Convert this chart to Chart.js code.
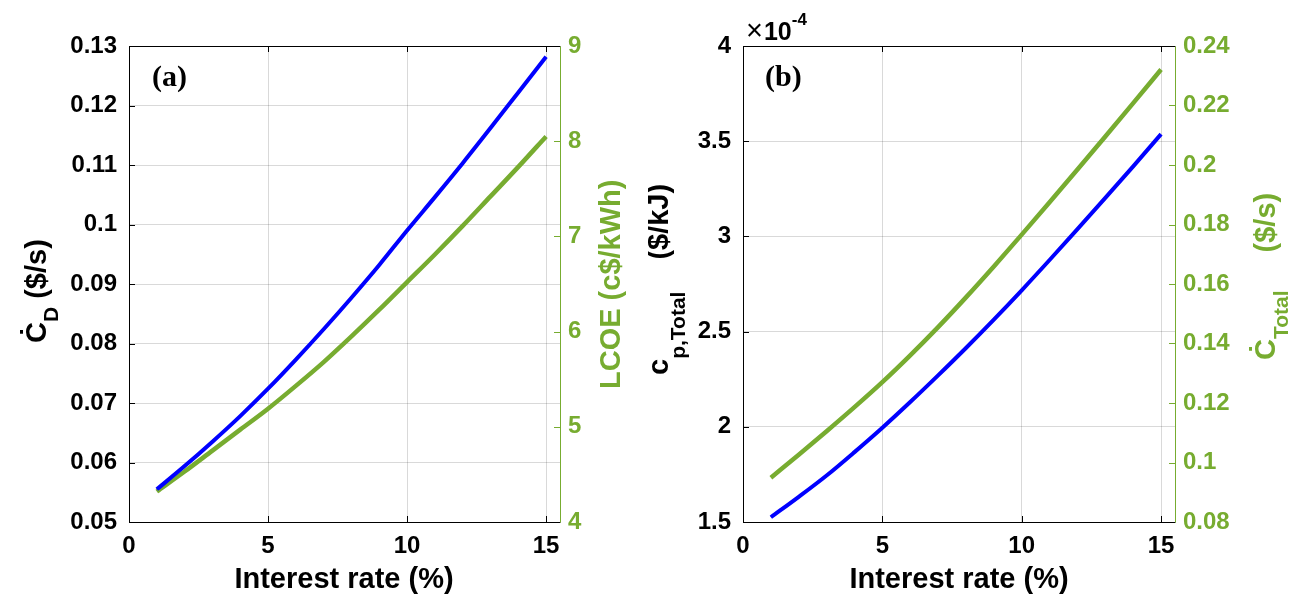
<!DOCTYPE html>
<html>
<head>
<meta charset="utf-8">
<script src="https://cdn.jsdelivr.net/npm/chart.js@4/dist/chart.umd.min.js"></script>
<style>
  body { margin: 0; background: #fff; }
  canvas { position: absolute; top: 0; }
</style>
</head>
<body>
<canvas id="chartA" width="648" height="596" style="left:0"></canvas>
<canvas id="chartB" width="648" height="596" style="left:648px"></canvas>
<script>
// interest rate (%)
var rateX = [1, 2, 3, 4, 5, 6, 7, 8, 9, 10, 11, 12, 13, 14, 15];
// panel (a)
var cdRate = [0.0555, 0.0594, 0.0635, 0.0678, 0.0724, 0.0773, 0.0824, 0.0877, 0.0932, 0.0990, 0.1046, 0.1103, 0.1162, 0.1222, 0.1282];
var lcoe = [4.32, 4.53, 4.75, 4.97, 5.19, 5.43, 5.68, 5.95, 6.23, 6.52, 6.81, 7.11, 7.42, 7.73, 8.05];
// panel (b)  (cp in units of 1e-4 $/kJ)
var cpTotal = [1.525, 1.632, 1.744, 1.867, 1.995, 2.130, 2.270, 2.414, 2.563, 2.717, 2.876, 3.038, 3.202, 3.368, 3.537];
var cTotal = [0.0949, 0.1026, 0.1105, 0.1186, 0.1270, 0.1360, 0.1455, 0.1555, 0.1659, 0.1766, 0.1875, 0.1985, 0.2096, 0.2208, 0.2321];

// tick values
var xTicks = [0, 5, 10, 15];
var cdTicks = [0.05, 0.06, 0.07, 0.08, 0.09, 0.1, 0.11, 0.12, 0.13];
var lcoeTicks = [4, 5, 6, 7, 8, 9];
var cpTicks = [1.5, 2, 2.5, 3, 3.5, 4];
var cTotalTicks = [0.08, 0.1, 0.12, 0.14, 0.16, 0.18, 0.2, 0.22, 0.24];

var green = '#77AC30';
var blue = '#0000FF';
var FAMILY = '"Liberation Sans", Arial, sans-serif';
var SERIF = '"Liberation Serif", "Times New Roman", serif';

Chart.defaults.font.family = FAMILY;
Chart.defaults.font.weight = 'bold';

function fmt(v) { return String(parseFloat(v.toFixed(4))); }
function pts(ys) { return rateX.map(function(x, i){ return {x: x, y: ys[i]}; }); }

function fontOf(p) {
    return (p.weight || 'bold') + ' ' + p.size + 'px ' + (p.family || FAMILY);
}

// draws a label made of parts (main text, subscripts, superscripts)
function drawText(ctx, t) {
    ctx.save();
    ctx.fillStyle = t.color || '#000';
    ctx.textBaseline = 'alphabetic';
    ctx.textAlign = 'left';
    var total = 0;
    t.parts.forEach(function(p){
        ctx.font = fontOf(p);
        total += (p.pad || 0) + ctx.measureText(p.text).width;
    });
    var cx, base;
    if (t.rot) {
        // after rotating by -90deg, screen (X, Y) is local (-Y, X)
        ctx.rotate(-Math.PI / 2);
        cx = -t.y;
        base = t.x;
    } else {
        cx = t.center ? t.x - total / 2 : t.x;
        base = t.y;
    }
    t.parts.forEach(function(p){
        ctx.font = fontOf(p);
        cx += p.pad || 0;
        ctx.fillText(p.text, cx, base + (p.dy || 0));
        cx += ctx.measureText(p.text).width;
    });
    ctx.restore();
}

function framePlugin(texts) {
    return {
        id: 'frame',
        afterDraw: function(chart) {
            var ctx = chart.ctx, a = chart.chartArea, s = chart.scales;
            ctx.save();
            ctx.lineWidth = 1;
            function seg(x1, y1, x2, y2, c) {
                ctx.strokeStyle = c;
                ctx.beginPath(); ctx.moveTo(x1, y1); ctx.lineTo(x2, y2); ctx.stroke();
            }
            s.x.ticks.forEach(function(t){
                var px = Math.round(s.x.getPixelForValue(t.value)) + 0.5;
                seg(px, a.bottom, px, a.bottom - 6, '#000');
                seg(px, a.top, px, a.top + 6, '#000');
            });
            s.y.ticks.forEach(function(t){
                var py = Math.round(s.y.getPixelForValue(t.value)) + 0.5;
                seg(a.left, py, a.left + 6, py, '#000');
            });
            s.y1.ticks.forEach(function(t){
                var py = Math.round(s.y1.getPixelForValue(t.value)) + 0.5;
                seg(a.right, py, a.right - 6, py, green);
            });
            var L = Math.round(a.left) + 0.5, R = Math.round(a.right) + 0.5;
            var T = Math.round(a.top) + 0.5, B = Math.round(a.bottom) + 0.5;
            seg(L, T, R, T, '#000');
            seg(L, B, R, B, '#000');
            seg(L, T, L, B, '#000');
            seg(R, T, R, B, green);
            ctx.restore();
            texts.forEach(function(t){ drawText(ctx, t); });
        }
    };
}

function makeChart(id, series1, series2, y, y1, texts) {
    return new Chart(document.getElementById(id), {
        type: 'line',
        data: {
            datasets: [
                { data: pts(series1), yAxisID: 'y', borderColor: blue, borderWidth: 4,
                  pointRadius: 0, cubicInterpolationMode: 'monotone', fill: false },
                { data: pts(series2), yAxisID: 'y1', borderColor: green, borderWidth: 4.5,
                  pointRadius: 0, cubicInterpolationMode: 'monotone', fill: false }
            ]
        },
        options: {
            responsive: false,
            animation: false,
            devicePixelRatio: 1,
            layout: { padding: { top: 46, left: 0, right: 0, bottom: 0 } },
            plugins: { legend: { display: false }, tooltip: { enabled: false } },
            scales: {
                x: {
                    type: 'linear', min: 0, max: 15.5,
                    afterBuildTicks: function(sc){ sc.ticks = xTicks.map(function(v){ return {value: v}; }); },
                    afterFit: function(sc){ sc.height = 74; },
                    grid: { color: 'rgba(0,0,0,0.15)', drawTicks: false },
                    border: { display: false },
                    ticks: { autoSkip: false, maxRotation: 0, color: '#000', padding: 10,
                             font: { size: 24, weight: 'bold' }, callback: fmt }
                },
                y: {
                    position: 'left', min: y.min, max: y.max,
                    afterBuildTicks: function(sc){ sc.ticks = y.ticks.map(function(v){ return {value: v}; }); },
                    afterFit: function(sc){ sc.width = y.width; },
                    grid: { color: 'rgba(0,0,0,0.15)', drawTicks: false },
                    border: { display: false },
                    ticks: { autoSkip: false, color: '#000', padding: 12,
                             font: { size: 24, weight: 'bold' }, callback: fmt }
                },
                y1: {
                    position: 'right', min: y1.min, max: y1.max,
                    afterBuildTicks: function(sc){ sc.ticks = y1.ticks.map(function(v){ return {value: v}; }); },
                    afterFit: function(sc){ sc.width = y1.width; },
                    grid: { display: false, drawTicks: false },
                    border: { display: false },
                    ticks: { autoSkip: false, color: green, padding: 8,
                             font: { size: 24, weight: 'bold' }, callback: fmt }
                }
            }
        },
        plugins: [framePlugin(texts)]
    });
}

makeChart('chartA', cdRate, lcoe,
    { min: 0.05, max: 0.13, ticks: cdTicks, width: 129 },
    { min: 4, max: 9, ticks: lcoeTicks, width: 88 },
    [
        { rot: true, x: 46, y: 343, parts: [ {text: 'Ċ', size: 29}, {text: 'D', size: 21, dy: 12}, {text: ' ($/s)', size: 29} ] },
        { rot: true, x: 620, y: 389, color: green, parts: [ {text: 'LCOE (c$/kWh)', size: 29} ] },
        { center: true, x: 344, y: 588, parts: [ {text: 'Interest rate (%)', size: 29} ] },
        { x: 152, y: 86, parts: [ {text: '(a)', size: 30, family: SERIF} ] }
    ]);

makeChart('chartB', cpTotal, cTotal,
    { min: 1.5, max: 4, ticks: cpTicks, width: 95 },
    { min: 0.08, max: 0.24, ticks: cTotalTicks, width: 121 },
    [
        { rot: true, x: 20, y: 375, parts: [ {text: 'c', size: 29}, {text: 'p,Total', size: 21, dy: 17}, {text: '($/kJ)', size: 29, pad: 32} ] },
        { rot: true, x: 627, y: 360, color: green, parts: [ {text: 'Ċ', size: 29}, {text: 'Total', size: 21, dy: 13}, {text: '($/s)', size: 29, pad: 38} ] },
        { center: true, x: 311, y: 588, parts: [ {text: 'Interest rate (%)', size: 29} ] },
        { x: 117, y: 86, parts: [ {text: '(b)', size: 30, family: SERIF} ] },
        { x: 98, y: 40, parts: [ {text: '×', size: 29, weight: 'normal'}, {text: '10', size: 25, pad: 1}, {text: '-4', size: 17, dy: -15} ] }
    ]);
</script>
</body>
</html>
